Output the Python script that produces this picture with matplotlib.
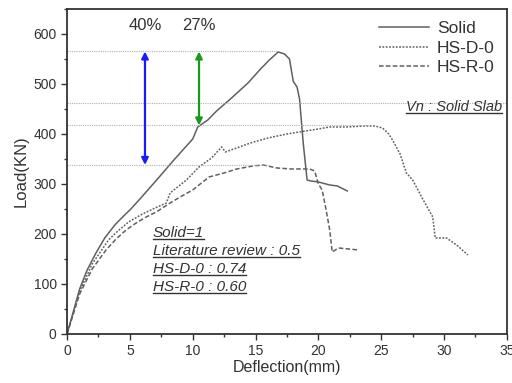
import matplotlib
matplotlib.use("Agg")
import matplotlib.pyplot as plt
from matplotlib.ticker import MultipleLocator

plt.rcParams['font.family'] = ['Liberation Sans', 'DejaVu Sans']

solid_x = [0, 0.5, 1.0, 1.6, 2.3, 3.0, 3.8, 4.5, 5.0, 5.8, 7.2, 8.5, 10.0, 10.4, 11.2, 11.9, 13.0, 14.4, 15.4, 16.1, 16.8, 17.3, 17.7, 18.0, 18.3, 18.5, 18.8, 19.1, 19.4, 20.0, 20.9, 21.5, 22.3]
solid_y = [0, 45, 90, 128, 162, 192, 218, 236, 248, 270, 310, 348, 390, 414, 428, 446, 470, 502, 530, 548, 564, 560, 550, 505, 494, 470, 380, 308, 306, 304, 298, 296, 286]

hsd_x = [0, 0.5, 1.0, 2.0, 3.3, 4.0, 4.9, 6.0, 7.0, 7.9, 8.2, 9.5, 10.5, 11.5, 12.3, 12.6, 13.5, 14.6, 16.0, 17.5, 18.5, 20.0, 20.9, 22.3, 23.7, 24.5, 25.1, 25.6, 25.9, 26.5, 27.0, 27.5, 28.3, 29.1, 29.3, 30.2, 31.0, 31.9]
hsd_y = [0, 42, 85, 140, 188, 205, 224, 240, 252, 262, 282, 308, 334, 352, 374, 364, 372, 382, 392, 400, 404, 410, 414, 414, 416, 416, 412, 400, 388, 360, 322, 308, 270, 234, 192, 192, 178, 158]

hsr_x = [0, 0.5, 1.0, 2.0, 3.1, 3.9, 4.7, 5.5, 6.3, 7.1, 8.2, 9.0, 10.0, 11.3, 12.5, 13.5, 14.8, 15.6, 16.7, 17.8, 19.3, 19.7, 20.0, 20.3, 20.6, 20.9, 21.1, 21.6, 22.4, 23.2]
hsr_y = [0, 40, 80, 130, 168, 190, 208, 222, 234, 244, 262, 274, 288, 314, 322, 330, 336, 338, 332, 330, 330, 326, 300, 288, 250, 208, 164, 172, 170, 168]

pct_labels = ["40%", "27%"]
ref_levels = [565, 462, 417, 338]
notes = ["Solid=1", "Literature review : 0.5", "HS-D-0 : 0.74", "HS-R-0 : 0.60"]

fig = plt.figure(figsize=(5.12, 3.83), dpi=100)
ax = fig.add_axes([0.131, 0.128, 0.859, 0.8486])

lc = '#606060'
ax.plot(solid_x, solid_y, color=lc, lw=1.1, ls='-', label='Solid')
ax.plot(hsd_x, hsd_y, color=lc, lw=1.1, ls=(0, (1.2, 1.0)), label='HS-D-0')
ax.plot(hsr_x, hsr_y, color=lc, lw=1.1, ls=(0, (3, 1.5)), label='HS-R-0')

# reference dotted lines
dcol = '#b0b0b0'
ax.plot([0, 16.8], [ref_levels[0]] * 2, color=dcol, lw=0.8, ls=(0, (1, 1)))
ax.plot([0, 35], [ref_levels[1]] * 2, color=dcol, lw=0.8, ls=(0, (1, 1)))
ax.plot([0, 24.0], [ref_levels[2]] * 2, color=dcol, lw=0.8, ls=(0, (1, 1)))
ax.plot([0, 16.0], [ref_levels[3]] * 2, color=dcol, lw=0.8, ls=(0, (1, 1)))

# arrows
ax.annotate('', xy=(6.2, ref_levels[3]), xytext=(6.2, ref_levels[0]),
            arrowprops=dict(arrowstyle='<|-|>', color='#1a1aff', lw=1.6, mutation_scale=10, shrinkA=0, shrinkB=0))
ax.annotate('', xy=(10.5, ref_levels[2]), xytext=(10.5, ref_levels[0]),
            arrowprops=dict(arrowstyle='<|-|>', color='#1a9a1a', lw=1.6, mutation_scale=10, shrinkA=0, shrinkB=0))
ax.text(6.2, 616, pct_labels[0], ha='center', va='center', fontsize=12, color='#333333')
ax.text(10.5, 616, pct_labels[1], ha='center', va='center', fontsize=12, color='#333333')

ax.set_xlim(0, 35)
ax.set_ylim(0, 650)
ax.xaxis.set_major_locator(MultipleLocator(5))
ax.xaxis.set_minor_locator(MultipleLocator(2.5))
ax.yaxis.set_major_locator(MultipleLocator(100))
ax.yaxis.set_minor_locator(MultipleLocator(50))
ax.tick_params(which='both', direction='out', colors='#333333', labelsize=10, width=1.0)
ax.tick_params(which='major', length=4)
ax.tick_params(which='minor', length=2.5)
for s in ax.spines.values():
    s.set_linewidth(1.3)
    s.set_color('#333333')
ax.set_xlabel('Deflection(mm)', fontsize=11.5, color='#333333', labelpad=1)
ax.set_ylabel('Load(KN)', fontsize=12, color='#333333', labelpad=3)

leg = ax.legend(loc='upper right', frameon=False, fontsize=12.5, handlelength=2.9,
                handletextpad=0.45, labelspacing=0.25, borderaxespad=0.3)
for t in leg.get_texts():
    t.set_color('#333333')

texts = []
texts.append(ax.text(34.6, 440, 'Vn : Solid Slab', ha='right', va='bottom', fontsize=10.5, style='italic', color='#333333'))
ny = [188, 152, 116, 80]
for s, y in zip(notes, ny):
    texts.append(ax.text(6.8, y, s, ha='left', va='bottom', fontsize=11, style='italic', color='#333333'))

fig.canvas.draw()
r = fig.canvas.get_renderer()
inv = ax.transData.inverted()
for t in texts:
    bb = t.get_window_extent(renderer=r)
    (x0, y0) = inv.transform((bb.x0, bb.y0 + 1))
    (x1, _) = inv.transform((bb.x1, bb.y0 + 1))
    ax.plot([x0, x1], [y0, y0], color='#333333', lw=1.0)

fig.savefig('out.png', dpi=100)
